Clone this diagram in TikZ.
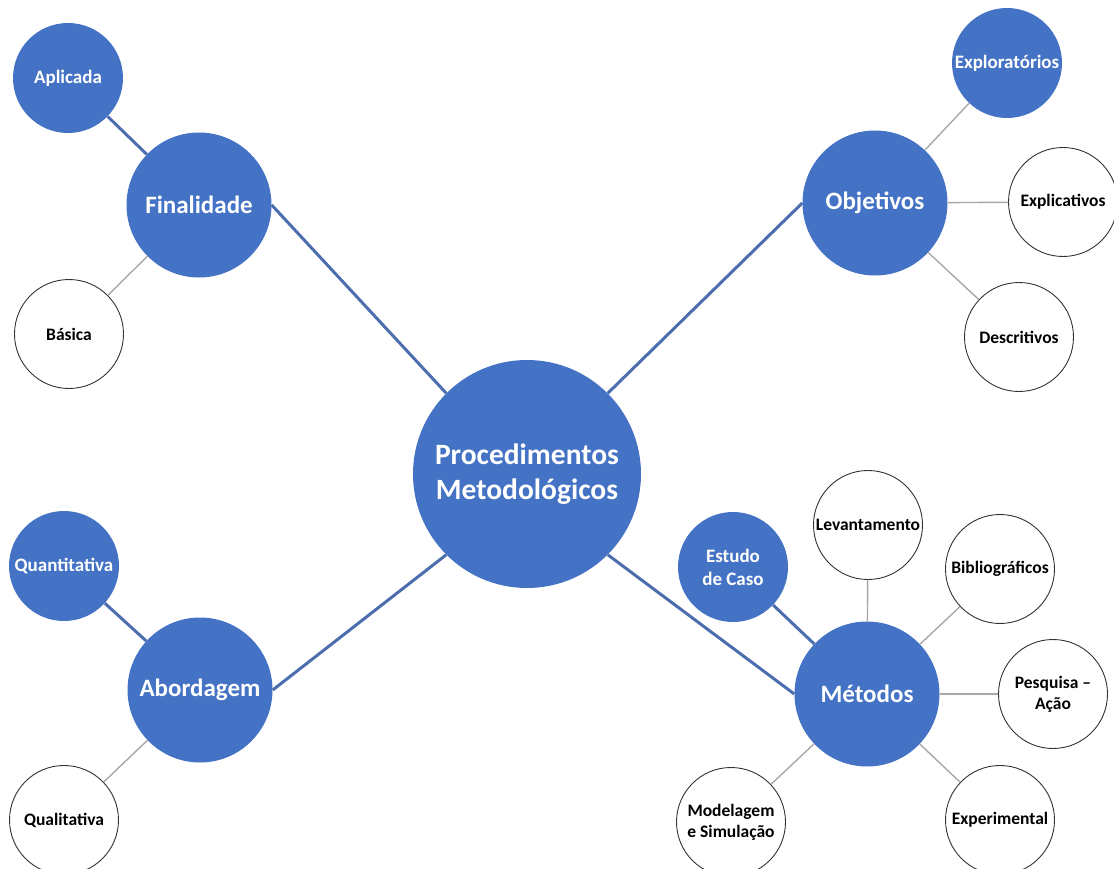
\documentclass[tikz,border=0pt]{standalone}
\usepackage{fontspec}
\setmainfont{Carlito}
\definecolor{obl}{HTML}{4472C4}
\definecolor{lnk}{HTML}{4C6DAE}
\definecolor{lgr}{HTML}{A8A8A8}
\tikzset{
  big/.style={circle,fill=obl,text=white,font=\bfseries\fontsize{25}{28}\selectfont,minimum size=145pt,inner sep=0pt,align=center},
  mid/.style={circle,fill=obl,text=white,font=\bfseries\fontsize{19}{23}\selectfont,minimum size=110pt,inner sep=0pt,align=center},
  leaf/.style={circle,draw=black!80,line width=0.9pt,fill=white,text=black,font=\bfseries\fontsize{17.5}{21}\selectfont,minimum size=109pt,inner sep=0pt,align=center},
  thick link/.style={draw=lnk,line width=3pt},
  thin link/.style={draw=lgr,line width=1.4pt}
}
\begin{document}
\begin{tikzpicture}[x=1pt,y=-1pt]
\useasboundingbox (0,0) rectangle (1114,869);
% nodes
\node[circle,fill=obl,text=white,font=\bfseries\fontsize{29.5}{35}\selectfont,minimum size=228pt,inner sep=0pt,align=center] (c) at (527,474) {Procedimentos\\Metodológicos};
\node[big] (fin) at (199,205) {Finalidade};
\node[big] (obj) at (875,203) {Objetivos};
\node[big] (abo) at (200,690) {Abordagem};
\node[big] (met) at (867,694) {Métodos};
\node[mid] (apl) at (68,78) {Aplicada};
\node[leaf] (bas) at (69,334) {Básica};
\node[mid] (exp) at (1007,63) {Exploratórios};
\node[leaf] (expl) at (1063,202) {Explicativos};
\node[leaf] (des) at (1019,337) {Descritivos};
\node[mid] (qua) at (64,566) {Quantitativa};
\node[leaf] (qul) at (64,820) {Qualitativa};
\node[mid] (est) at (733,567) {Estudo\\de Caso};
\node[leaf] (lev) at (868,525) {Levantamento};
\node[leaf] (bib) at (1000,569) {Bibliográficos};
\node[leaf] (pes) at (1053,694) {Pesquisa –\\Ação};
\node[leaf] (exl) at (1000,820) {Experimental};
\node[leaf] (mod) at (731,822) {Modelagem\\e Simulação};
% connectors
\draw[thick link] (fin.east) -- (c.north west);
\draw[thick link] (obj.west) -- (c.north east);
\draw[thick link] (abo.east) -- (c.south west);
\draw[thick link] (met.west) -- (c.south east);
\draw[thick link] (fin) -- (apl);
\draw[thin link] (fin) -- (bas);
\draw[thin link] (obj) -- (exp);
\draw[thin link] (obj) -- (expl);
\draw[thin link] (obj) -- (des);
\draw[thick link] (abo) -- (qua);
\draw[thin link] (abo) -- (qul);
\draw[thick link] (met) -- (est);
\draw[thin link] (met) -- (lev);
\draw[thin link] (met) -- (bib);
\draw[thin link] (met) -- (pes);
\draw[thin link] (met) -- (exl);
\draw[thin link] (met) -- (mod);
\end{tikzpicture}
\end{document}
